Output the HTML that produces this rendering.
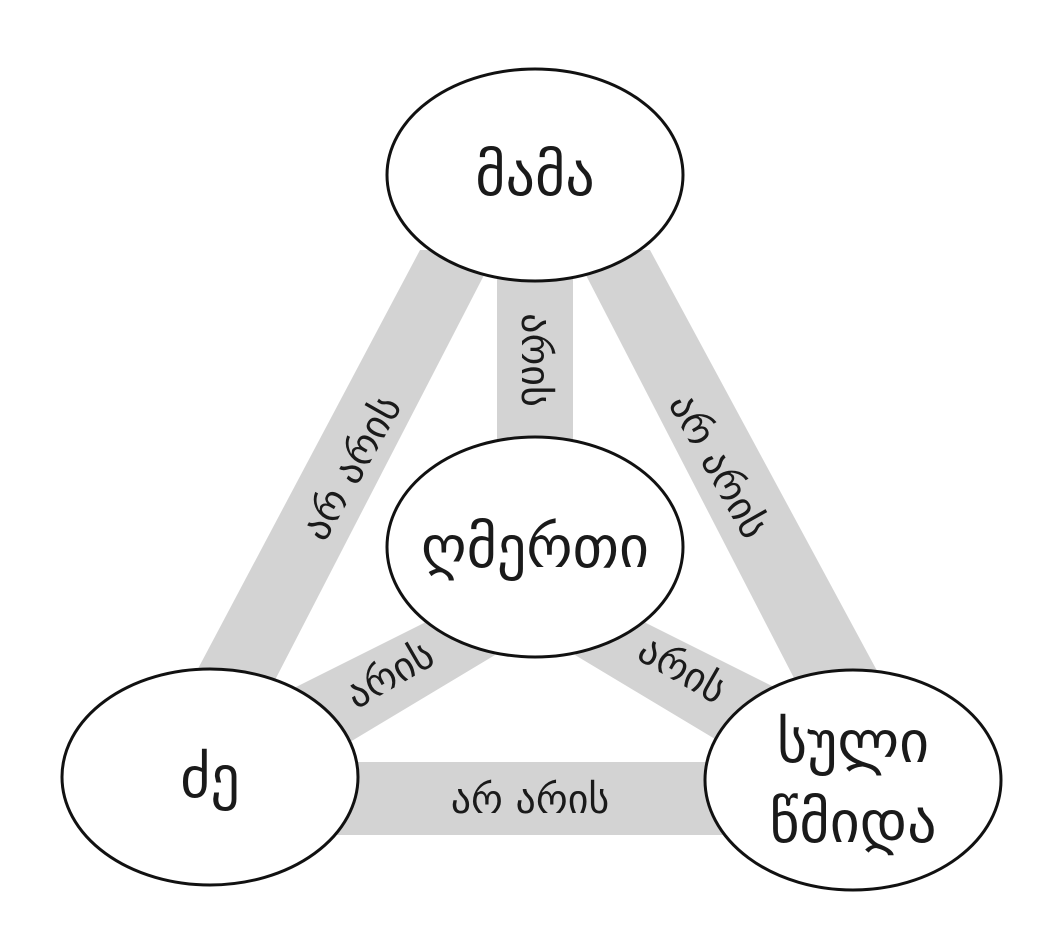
<!DOCTYPE html>
<html><head><meta charset="utf-8"><style>
html,body{margin:0;padding:0;background:#fff}
svg{display:block}
text{font-family:"DejaVu Sans","Liberation Sans",sans-serif;fill:#1a1a1a}
</style></head><body>
<svg width="1058" height="936" viewBox="0 0 1058 936" xmlns="http://www.w3.org/2000/svg">
<g fill="#d3d3d3">
<polygon points="420,250 497,250 275,680 192,680"/>
<polygon points="573,250 650,250 882,680 795,680"/>
<rect x="497" y="270" width="76" height="180"/>
<rect x="330" y="762" width="400" height="73"/>
<polygon points="440,615 495,655 345,745 290,690"/>
<polygon points="630,615 575,655 725,745 780,690"/>
</g>
<g fill="#fff" stroke="#111" stroke-width="3">
<ellipse cx="535" cy="175" rx="148" ry="106"/>
<ellipse cx="535" cy="547" rx="148" ry="110"/>
<ellipse cx="210" cy="777" rx="148" ry="108"/>
<ellipse cx="853" cy="780" rx="148" ry="110"/>
</g>
<g font-size="40" text-anchor="middle" dominant-baseline="central">
<text transform="translate(352,468) rotate(-60.5)">არ არის</text>
<text transform="translate(718,466) rotate(60.5)">არ არის</text>
<text transform="translate(535,360) rotate(90)">არის</text>
<text transform="translate(390,675) rotate(-30)">არის</text>
<text transform="translate(682,670) rotate(30)">არის</text>
<text x="530" y="800">არ არის</text>
</g>
<g font-size="58" text-anchor="middle" dominant-baseline="central">
<text x="535" y="175">მამა</text>
<text x="535" y="547">ღმერთი</text>
<text x="210" y="777">ძე</text>
<text x="853" y="742">სული</text>
<text x="853" y="822">წმიდა</text>
</g>
</svg>
</body></html>
